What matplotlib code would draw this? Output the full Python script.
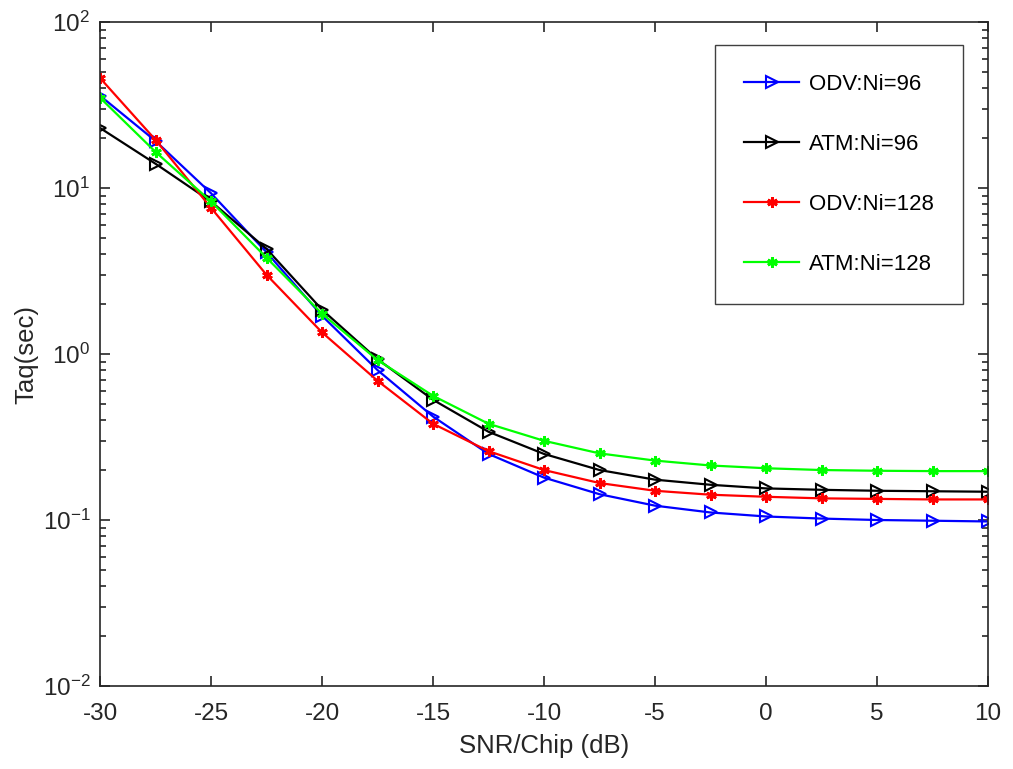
import matplotlib.pyplot as plt
import numpy as np
from matplotlib.ticker import LogLocator, NullFormatter, FuncFormatter

plt.rcParams['font.family'] = ['Liberation Sans', 'DejaVu Sans']
plt.rcParams['axes.unicode_minus'] = False
plt.rcParams['mathtext.fontset'] = 'custom'
plt.rcParams['mathtext.rm'] = 'Liberation Sans'

snr = [-30, -27.5, -25, -22.5, -20, -17.5, -15, -12.5, -10, -7.5, -5, -2.5, 0, 2.5, 5, 7.5, 10]
odv_96 = [36, 19.2, 9.3, 4.1, 1.7, 0.8, 0.42, 0.25, 0.18, 0.143, 0.122, 0.111, 0.105, 0.102, 0.1, 0.099, 0.098]
atm_96 = [23, 14, 8.3, 4.3, 1.85, 0.93, 0.53, 0.34, 0.25, 0.2, 0.175, 0.163, 0.155, 0.152, 0.15, 0.149, 0.148]
odv_128 = [46, 19.5, 7.6, 3.0, 1.35, 0.69, 0.38, 0.26, 0.2, 0.167, 0.15, 0.142, 0.138, 0.135, 0.134, 0.133, 0.133]
atm_128 = [35, 16.5, 8.3, 3.8, 1.75, 0.92, 0.56, 0.38, 0.3, 0.252, 0.228, 0.213, 0.205, 0.2, 0.198, 0.197, 0.197]

fig = plt.figure(figsize=(10.13, 7.69), dpi=100)
ax = fig.add_axes([100/1013, 83/769, 888/1013, 664/769])

ast = (6, 2, 0)
ax.plot(snr, odv_96, color='blue', lw=1.6, marker='>', ms=8.5, mfc='none', mew=1.5, label='ODV:Ni=96')
ax.plot(snr, atm_96, color='black', lw=1.6, marker='>', ms=8.5, mfc='none', mew=1.5, label='ATM:Ni=96')
ax.plot(snr, odv_128, color='red', lw=1.6, marker=ast, ms=7.5, mew=2, label='ODV:Ni=128')
ax.plot(snr, atm_128, color='#00ff00', lw=1.6, marker=ast, ms=7.5, mew=2, label='ATM:Ni=128')

ax.set_yscale('log')
ax.set_xlim(-30, 10)
ax.set_ylim(1e-2, 1e2)
ax.set_xticks(np.arange(-30, 11, 5))
ax.yaxis.set_major_formatter(FuncFormatter(lambda v, p: '$\\mathregular{10^{%d}}$' % round(np.log10(v))))
ax.yaxis.set_minor_locator(LogLocator(base=10, subs=np.arange(2, 10)))
ax.yaxis.set_minor_formatter(NullFormatter())
ax.tick_params(which='both', direction='in', top=True, right=True, labelsize=17.5, width=1.2, colors='#262626')
ax.tick_params(which='major', length=7)
ax.tick_params(which='minor', length=4)
ax.tick_params(axis='x', pad=12)
ax.tick_params(axis='y', pad=7)
for s in ax.spines.values():
    s.set_linewidth(1.2)
    s.set_color('#262626')

ax.set_xlabel('SNR/Chip (dB)', fontsize=18.5, color='#262626', labelpad=7)
ax.set_ylabel('Taq(sec)', fontsize=18.5, color='#262626', labelpad=3)

leg = ax.legend(loc='upper right', bbox_to_anchor=(0.972, 0.965), fontsize=16,
                labelspacing=1.75, handlelength=2.5, handletextpad=0.45, borderpad=1.3,
                borderaxespad=0, fancybox=False, edgecolor='#404040', framealpha=1)
leg.get_frame().set_linewidth(1.0)

fig.savefig('out.png', dpi=100)
